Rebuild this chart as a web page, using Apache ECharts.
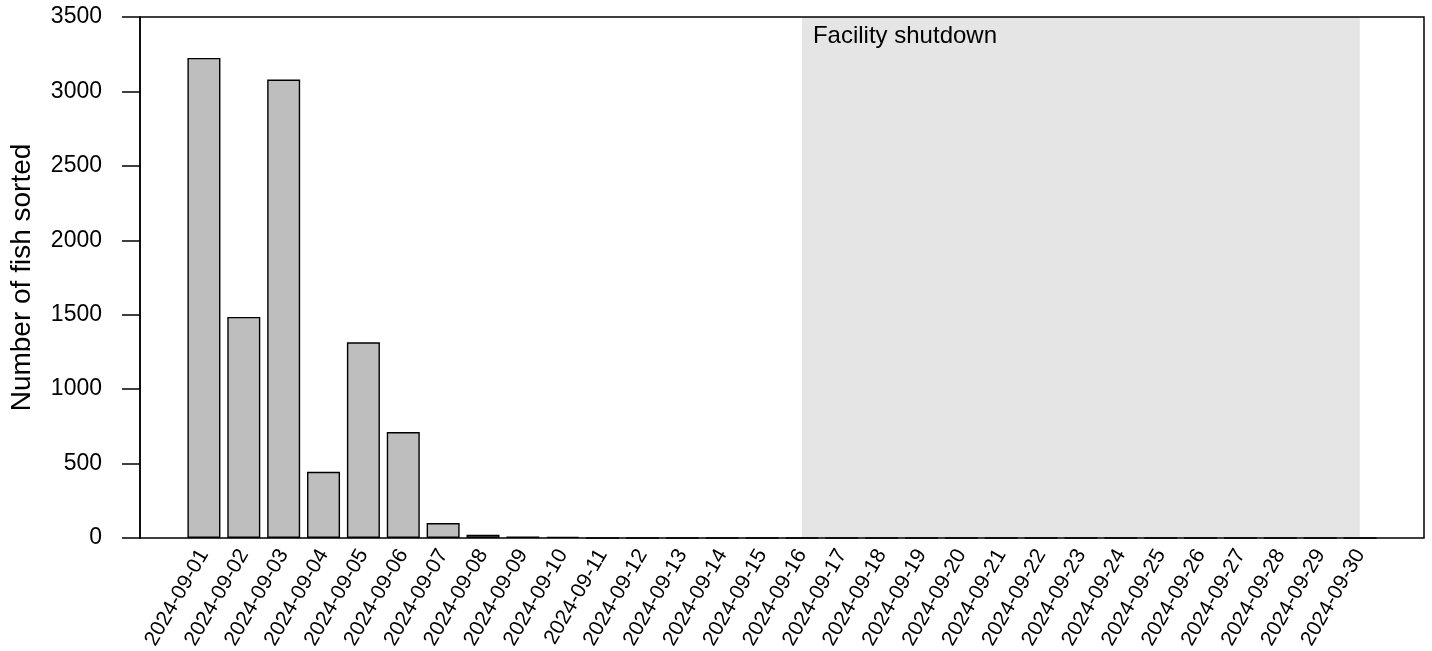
<!DOCTYPE html>
<html>
<head>
<meta charset="utf-8">
<script src="https://cdn.jsdelivr.net/npm/echarts@6/dist/echarts.min.js"></script>
<style>
  html, body { margin: 0; padding: 0; background: #fff; }
  #chart { width: 1432px; height: 651px; }
</style>
</head>
<body>
<div id="chart"></div>
<script>
// Daily counts of fish sorted, September 2024
const dates = [
  '2024-09-01', '2024-09-02', '2024-09-03', '2024-09-04', '2024-09-05',
  '2024-09-06', '2024-09-07', '2024-09-08', '2024-09-09', '2024-09-10',
  '2024-09-11', '2024-09-12', '2024-09-13', '2024-09-14', '2024-09-15',
  '2024-09-16', '2024-09-17', '2024-09-18', '2024-09-19', '2024-09-20',
  '2024-09-21', '2024-09-22', '2024-09-23', '2024-09-24', '2024-09-25',
  '2024-09-26', '2024-09-27', '2024-09-28', '2024-09-29', '2024-09-30'
];
const fishSorted = [
  3225, 1485, 3080, 445, 1315,
  712, 100, 22, 10, 8,
  0, 0, 0, 0, 0,
  0, 0, 0, 0, 0,
  0, 0, 0, 0, 0,
  0, 0, 0, 0, 0
];
const yTicks = [0, 500, 1000, 1500, 2000, 2500, 3000, 3500];
const shutdownStart = '2024-09-16';
const shutdownEnd = '2024-09-30';
const shutdownLabel = 'Facility shutdown';
const yTitle = 'Number of fish sorted';

const FONT = '"Liberation Sans", Arial, sans-serif';
const yMin = yTicks[0];
const yMax = yTicks[yTicks.length - 1];
const yStep = yTicks[1] - yTicks[0];

// Frame x-range in day-index units (day k sits at k); the frame reaches
// a little past the first and last bars, as a base-R barplot does.
const frameMin = -1.61;
const frameMax = dates.length - 1 + 1.61;

const chart = echarts.init(document.getElementById('chart'), null, { renderer: 'canvas' });

chart.setOption({
  animation: false,
  backgroundColor: '#ffffff',
  grid: [
    // bars
    { left: 184, right: 52, top: 17, bottom: 113, outerBoundsMode: 'none', containLabel: false },
    // plot frame, shaded period and y axis
    { left: 140, right: 8, top: 17, bottom: 113, show: true, z: 10,
      outerBoundsMode: 'none', containLabel: false,
      backgroundColor: 'transparent', borderColor: '#000', borderWidth: 1.5 }
  ],
  xAxis: [
    { type: 'category', gridIndex: 0, data: dates,
      axisLine: { show: false }, axisTick: { show: false },
      axisLabel: { rotate: 60, margin: 13, color: '#000', fontFamily: FONT, fontSize: 21, interval: 0 } },
    { type: 'value', gridIndex: 1, show: false, min: frameMin, max: frameMax }
  ],
  yAxis: [
    { type: 'value', gridIndex: 0, min: yMin, max: yMax, interval: yStep, show: false },
    { type: 'value', gridIndex: 1, min: yMin, max: yMax, interval: yStep,
      name: yTitle, nameLocation: 'middle', nameGap: 104, nameRotate: 90,
      nameTextStyle: { color: '#000', fontFamily: FONT, fontSize: 28 },
      axisLine: { show: true, onZero: false, lineStyle: { color: '#000', width: 1.5 } },
      axisTick: { show: true, length: 18, lineStyle: { color: '#000', width: 1.5 } },
      axisLabel: { margin: 38, color: '#000', fontFamily: FONT, fontSize: 23,
        padding: [4, 0, 0, 0],
        formatter: (v) => String(v) },
      splitLine: { show: false } }
  ],
  series: [
    {
      // shaded shutdown period, spanning the day centres
      type: 'line',
      xAxisIndex: 1,
      yAxisIndex: 1,
      data: [],
      z: 1,
      markArea: {
        silent: true,
        itemStyle: { color: '#E5E5E5' },
        label: {
          show: true,
          position: [11, 7],
          color: '#000',
          fontFamily: FONT,
          fontSize: 24
        },
        data: [[
          { name: shutdownLabel, xAxis: dates.indexOf(shutdownStart) },
          { xAxis: dates.indexOf(shutdownEnd) }
        ]]
      }
    },
    {
      type: 'bar',
      xAxisIndex: 0,
      yAxisIndex: 0,
      data: fishSorted,
      barWidth: 33,
      z: 3,
      itemStyle: { color: '#BEBEBE', borderColor: '#000', borderWidth: 1.4 }
    }
  ]
});
</script>
</body>
</html>
